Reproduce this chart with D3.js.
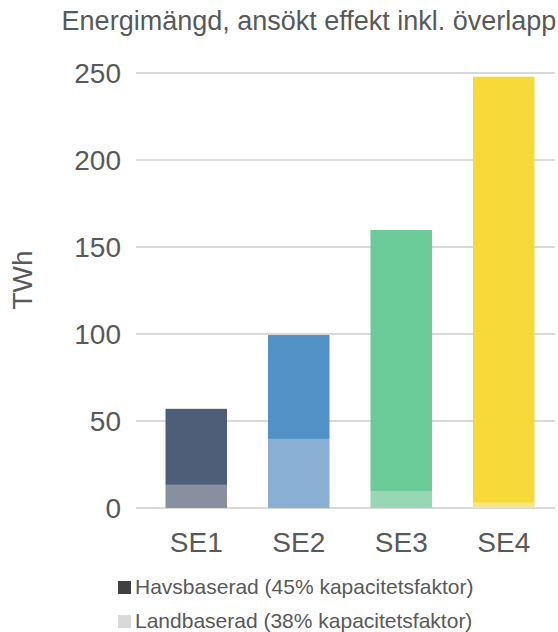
<!DOCTYPE html>
<html>
<head>
<meta charset="utf-8">
<script src="https://cdn.jsdelivr.net/npm/d3@7"></script>
<style>
  html, body { margin: 0; padding: 0; background: #ffffff; }
  svg { display: block; }
  text { font-family: "Liberation Sans", Arial, sans-serif; fill: #595959; }
</style>
</head>
<body>
<svg id="chart" width="558" height="632"></svg>
<script>
const categories = ["SE1", "SE2", "SE3", "SE4"];
const landbaserad = [13.3, 39.7, 9.8, 3.0];
const havsbaserad = [43.7, 59.7, 150.0, 244.9];
const yTicks = [0, 50, 100, 150, 200, 250];
const havsColors = ["#4e5e78", "#5191c5", "#6acb99", "#f7da3a"];
const landColors = ["#8890a0", "#89afd4", "#97d7b3", "#f5e48a"];
const seriesNames = ["Havsbaserad (45% kapacitetsfaktor)", "Landbaserad (38% kapacitetsfaktor)"];
const legendColors = ["#404040", "#d9d9d9"];
const title = "Energimängd, ansökt effekt inkl. överlapp";
const yLabel = "TWh";

const svg = d3.select("#chart");

const y = d3.scaleLinear().domain([0, 250]).range([508, 73]);
const x = d3.scaleBand().domain(categories).range([145, 555]).paddingInner(0.4).paddingOuter(0.2);

// gridlines
svg.append("g").selectAll("line").data(yTicks).join("line")
  .attr("x1", 136).attr("x2", 555)
  .attr("y1", d => y(d)).attr("y2", d => y(d))
  .attr("stroke", "#d9d9d9").attr("stroke-width", 2);

// y tick labels
svg.append("g").selectAll("text").data(yTicks).join("text")
  .attr("x", 121).attr("y", d => y(d))
  .attr("dy", "0.35em")
  .attr("text-anchor", "end")
  .style("font-size", "28px")
  .text(d => d);

// stacked bars
const rows = categories.map((c, i) => ({ c, i, land: landbaserad[i], havs: havsbaserad[i] }));
const g = svg.append("g");
g.selectAll("rect.land").data(rows).join("rect").attr("class", "land")
  .attr("x", d => x(d.c)).attr("width", x.bandwidth())
  .attr("y", d => y(d.land)).attr("height", d => y(0) - y(d.land))
  .attr("fill", d => landColors[d.i]);
g.selectAll("rect.havs").data(rows).join("rect").attr("class", "havs")
  .attr("x", d => x(d.c)).attr("width", x.bandwidth())
  .attr("y", d => y(d.land + d.havs)).attr("height", d => y(d.land) - y(d.land + d.havs))
  .attr("fill", d => havsColors[d.i]);

// x labels
svg.append("g").selectAll("text").data(categories).join("text")
  .attr("x", d => x(d) + x.bandwidth() / 2).attr("y", 552)
  .attr("text-anchor", "middle")
  .style("font-size", "28px")
  .text(d => d);

// title
svg.append("text").attr("x", 309).attr("y", 30).attr("text-anchor", "middle")
  .style("font-size", "27px").text(title);

// y axis label
svg.append("text").attr("transform", "translate(32,280) rotate(-90)")
  .attr("text-anchor", "middle").style("font-size", "28px").text(yLabel);

// legend
const leg = svg.append("g").selectAll("g").data(seriesNames).join("g")
  .attr("transform", (d, i) => `translate(118,${581 + i * 34})`);
leg.append("rect").attr("width", 13).attr("height", 13).attr("fill", (d, i) => legendColors[i]);
leg.append("text").attr("x", 17).attr("y", 13).style("font-size", "21px").text(d => d);
</script>
</body>
</html>
